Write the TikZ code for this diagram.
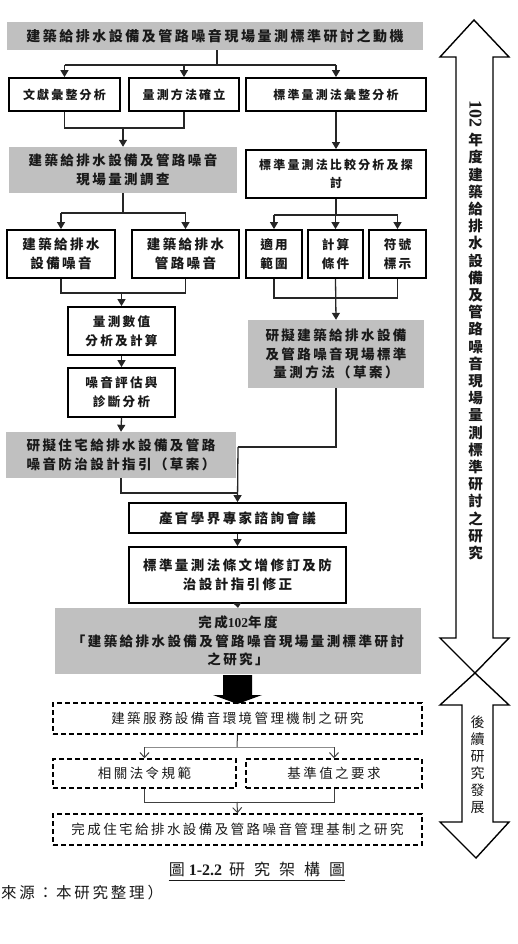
\documentclass[tikz,border=0pt]{standalone}
\usepackage{fontspec}
\usetikzlibrary{arrows.meta}
\newfontfamily\cjk[LetterSpace=18]{Noto Sans CJK TC}
\newfontfamily\cjkv{Noto Sans CJK TC}
\newfontfamily\dig{Liberation Serif}
\definecolor{boxgray}{RGB}{192,192,192}
\definecolor{ink}{RGB}{25,25,25}
\begin{document}
\begin{tikzpicture}[x=1pt,y=-1pt,
  base/.style={inner sep=0pt, align=center, text=ink, font=\cjk\bfseries\fontsize{13.5}{18.5}\selectfont},
  gbox/.style={base, fill=boxgray},
  wbox/.style={base, draw=black, line width=1.8pt, fill=white},
  dbox/.style={base, draw=black, line width=1.5pt, dash pattern=on 5pt off 3pt, font=\cjk\fontsize{13.5}{18.5}\selectfont},
  smallt/.style={font=\cjk\bfseries\fontsize{12}{18}\selectfont},
  midt/.style={font=\cjk\bfseries\fontsize{12.6}{19}\selectfont},
  conn/.style={draw=black!85, line width=1.3pt},
  arr/.style={conn, -{Triangle[length=7pt,width=8pt]}},
  dconn/.style={draw=black!75, line width=1pt},
  darr/.style={dconn, -{Straight Barb[length=5pt,width=9pt]}},
  bigarrow/.style={draw=black, line width=1.4pt, fill=white, line join=miter},
]
\useasboundingbox (0,0) rectangle (517,944);

% ---------- top ----------
\node[gbox, minimum width=416pt, minimum height=28pt, font=\cjk\bfseries\fontsize{14}{18.5}\selectfont] (title) at (215,36) {建築給排水設備及管路噪音現場量測標準研討之動機};
\node[wbox, smallt, minimum width=111pt, minimum height=33pt] (b1) at (64.5,94.5) {文獻彙整分析};
\node[wbox, smallt, minimum width=110pt, minimum height=33pt] (b2) at (184,94.5) {量測方法確立};
\node[wbox, smallt, minimum width=180pt, minimum height=33pt] (b3) at (336,94.5) {標準量測法彙整分析};

% ---------- left column ----------
\node[gbox, minimum width=228pt, minimum height=46pt] (g2) at (123,170) {建築給排水設備及管路噪音\\現場量測調查};
\node[wbox, minimum width=108pt, minimum height=48pt] (l3a) at (61,254) {建築給排水\\設備噪音};
\node[wbox, minimum width=107pt, minimum height=48pt] (l3b) at (185.5,254) {建築給排水\\管路噪音};
\node[wbox, midt, minimum width=107pt, minimum height=48pt] (l4) at (121.5,331) {量測數值\\分析及計算};
\node[wbox, midt, minimum width=107pt, minimum height=49pt] (l5) at (121.5,392.5) {噪音評估與\\診斷分析};
\node[gbox, minimum width=230pt, minimum height=46pt] (lg) at (121,455) {研擬住宅給排水設備及管路\\噪音防治設計指引（草案）};

% ---------- right column ----------
\node[wbox, smallt, minimum width=180pt, minimum height=48pt] (r2) at (336,174) {標準量測法比較分析及探\\討};
\node[wbox, midt, minimum width=56pt, minimum height=48pt] (r3a) at (274,254) {適用\\範圍};
\node[wbox, midt, minimum width=55pt, minimum height=48pt] (r3b) at (335.5,254) {計算\\條件};
\node[wbox, midt, minimum width=57pt, minimum height=48pt] (r3c) at (397.5,254) {符號\\標示};
\node[gbox, minimum width=176pt, minimum height=68pt] (rg) at (336,354) {研擬建築給排水設備\\及管路噪音現場標準\\量測方法（草案）};

% ---------- middle ----------
\node[wbox, minimum width=217pt, minimum height=30pt] (m1) at (237.5,518) {產官學界專家諮詢會議};
\node[wbox, minimum width=217pt, minimum height=56pt] (m2) at (237.5,575) {標準量測法條文增修訂及防\\治設計指引修正};
\node[gbox, minimum width=366pt, minimum height=66pt] (mg) at (238,641) {完成{\dig\bfseries 102}年度\\「建築給排水設備及管路噪音現場量測標準研討\\之研究」};

% ---------- dashed part ----------
\node[dbox, minimum width=369pt, minimum height=31pt] (d1) at (237.5,718.5) {建築服務設備音環境管理機制之研究};
\node[dbox, minimum width=183pt, minimum height=29pt] (d2a) at (144.5,773.5) {相關法令規範};
\node[dbox, minimum width=176pt, minimum height=29pt] (d2b) at (334,773.5) {基準值之要求};
\node[dbox, minimum width=369pt, minimum height=31pt] (d3) at (237.5,829.5) {完成住宅給排水設備及管路噪音管理基制之研究};

% ---------- connectors ----------
\coordinate (j1) at (217,65);
\draw[conn] (title.south -| j1) -- (j1);
\draw[conn] (j1 -| b1) -- (j1 -| b3);
\draw[arr] (j1 -| b1) -- (b1.north);
\draw[arr] (j1 -| b2) -- (b2.north);
\draw[arr] (j1 -| b3) -- (b3.north);

\coordinate (j2) at (123,128);
\draw[conn] (b1.south) -- (b1.south |- j2) -- (b2.south |- j2) -- (b2.south);
\draw[arr] (j2 -| g2) -- (g2.north);
\draw[arr] (b3.south) -- (r2.north);

\coordinate (j3) at (123,213);
\draw[conn] (g2.south) -- (j3 -| g2);
\draw[conn] (j3 -| l3a) -- (j3 -| l3b);
\draw[arr] (j3 -| l3a) -- (l3a.north);
\draw[arr] (j3 -| l3b) -- (l3b.north);

\coordinate (j4) at (336,215);
\draw[conn] (r2.south) -- (j4 -| r2);
\draw[conn] (j4 -| r3a) -- (j4 -| r3c);
\draw[arr] (j4 -| r3a) -- (r3a.north);
\draw[arr] (j4 -| r3b) -- (r3b.north);
\draw[arr] (j4 -| r3c) -- (r3c.north);

\coordinate (j5) at (121,293);
\draw[conn] (l3a.south) -- (l3a.south |- j5) -- (l3b.south |- j5) -- (l3b.south);
\draw[arr] (j5 -| l4) -- (l4.north);

\coordinate (j6) at (336,298);
\draw[conn] (r3a.south) -- (r3a.south |- j6) -- (r3c.south |- j6) -- (r3c.south);
\draw[arr] (r3b.south) -- (rg.north);

\draw[arr] (l4.south) -- (l5.north);
\draw[arr] (l5.south) -- (lg.north);

\coordinate (j7) at (238,493);
\coordinate (j8) at (238,447);
\draw[conn] (lg.south) -- (lg.south |- j7) -- (j7);
\draw[conn] (rg.south) -- (rg.south |- j8) -- (j8);
\draw[arr] (j8) -- (m1.north);
\draw[arr] (m1.south) -- (m2.north);
\draw[conn, -{Triangle[length=5pt,width=8pt]}] (m2.south) -- (mg.north);

% big black arrow
\fill[black] (223,675) -- (252,675) -- (252,695) -- (262,695) -- (237.5,704) -- (213,695) -- (223,695) -- cycle;

\coordinate (k1) at (237,747);
\draw[dconn] (d1.south) -- (k1);
\draw[dconn, draw=black!45] (k1 -| d2a) -- (k1 -| d2b);
\draw[darr] (k1 -| d2a) -- (d2a.north);
\draw[darr] (k1 -| d2b) -- (d2b.north);
\coordinate (k2) at (237,802);
\draw[dconn] (d2a.south) -- (d2a.south |- k2) -- (d2b.south |- k2) -- (d2b.south);
\draw[darr] (k2) -- (d3.north);

% ---------- right big arrows ----------
\draw[bigarrow] (474,20) -- (509,57) -- (493,57) -- (493,638) -- (509,638) -- (475,673) -- (440,638) -- (456,638) -- (456,57) -- (440,57) -- cycle;
\draw[bigarrow] (475,673) -- (509,705) -- (493,705) -- (493,822) -- (509,822) -- (476,858) -- (440,822) -- (462,822) -- (462,705) -- (440,705) -- cycle;

\node[rotate=-90, inner sep=0pt, text=ink, font=\dig\bfseries\fontsize{18}{18}\selectfont] (vt0) at (475.5,114) {102};
\node[anchor=north, inner sep=0pt, align=center, text=ink, font=\cjkv\bfseries\fontsize{14.5}{17.2}\selectfont] (vt1) at (475.5,133) {年\\度\\建\\築\\給\\排\\水\\設\\備\\及\\管\\路\\噪\\音\\現\\場\\量\\測\\標\\準\\研\\討\\之\\研\\究};
\node[inner sep=0pt, align=center, text=ink, font=\cjkv\fontsize{14}{17}\selectfont] (vt2) at (477.5,765) {後\\續\\研\\究\\發\\展};

% ---------- caption ----------
\node[inner xsep=0pt, text=ink, font=\cjkv\fontsize{16}{18}\selectfont] (cap) at (257,869) {圖\hspace{4pt}{\dig\bfseries 1-2.2}\hspace{7pt}研\hspace{9pt}究\hspace{9pt}架\hspace{9pt}構\hspace{9pt}圖};
\draw[line width=0.9pt, draw=ink] ([yshift=-5pt]cap.base west) -- ([yshift=-5pt]cap.base east);
\node[anchor=west, inner sep=0pt, text=ink, font=\cjk\fontsize{15.5}{18}\selectfont] (src) at (1,893) {來源：本研究整理）};
\end{tikzpicture}
\end{document}
